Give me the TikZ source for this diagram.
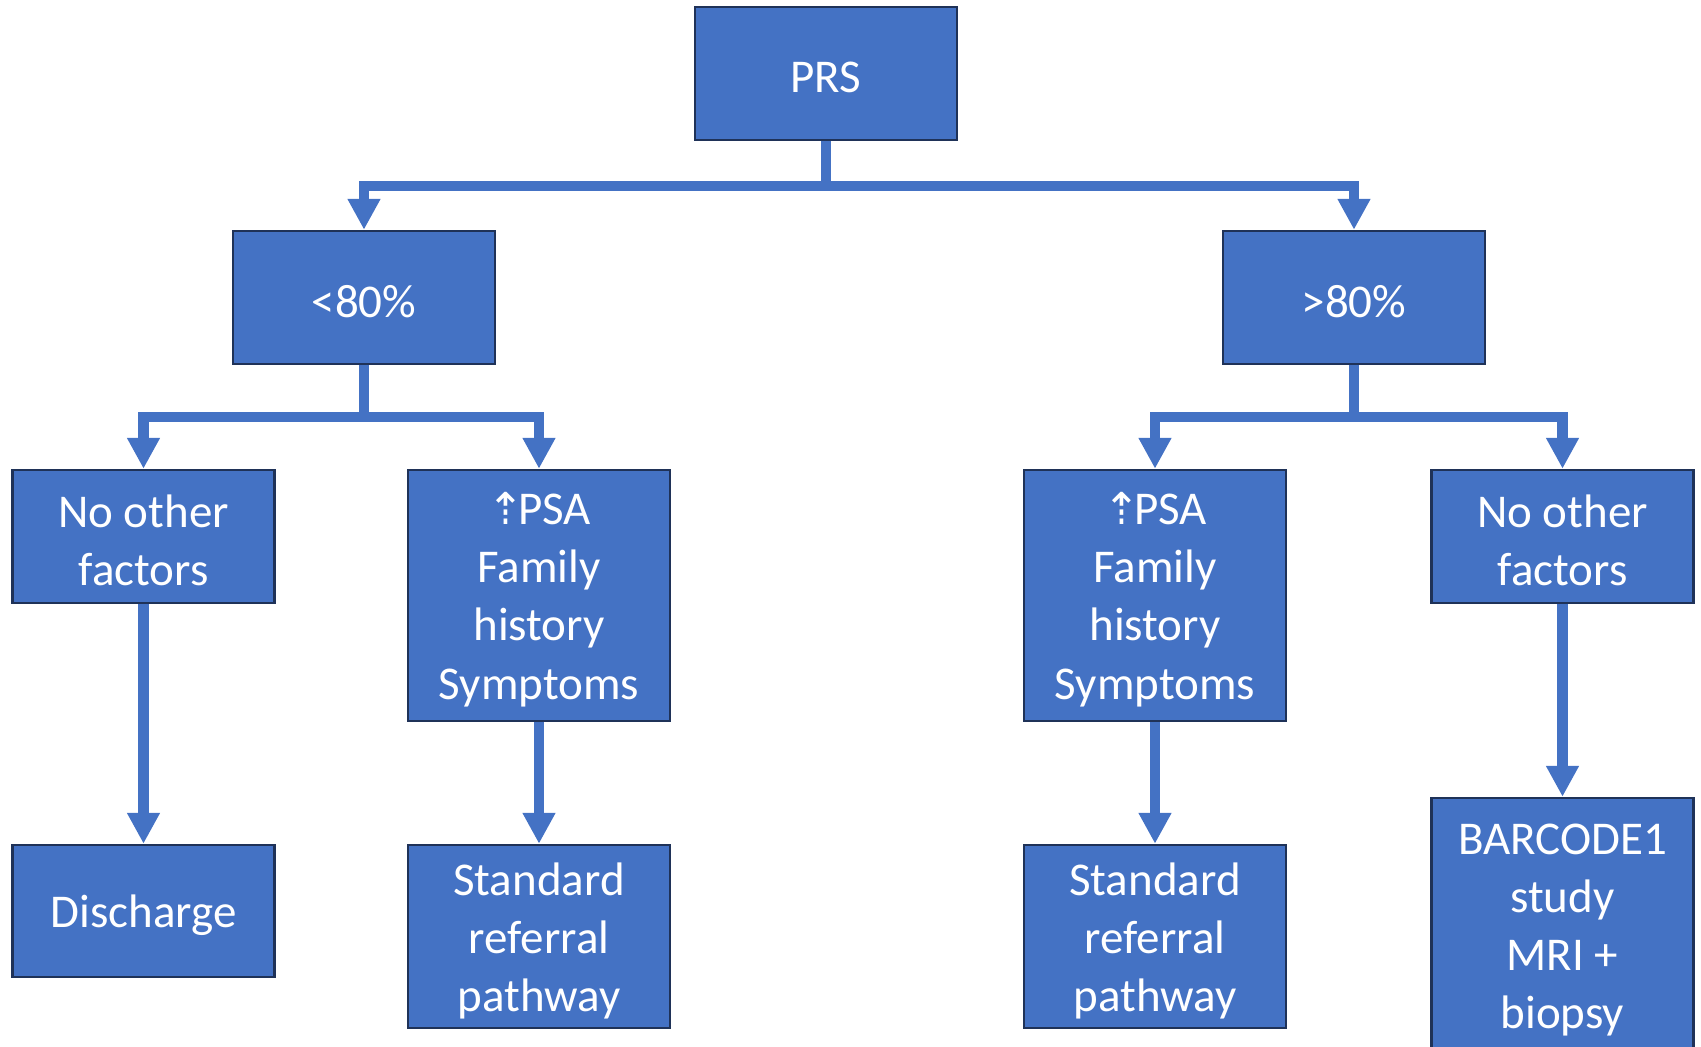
\documentclass[tikz,border=0pt]{standalone}
\usepackage{fontspec}
\setmainfont{Carlito}
\newfontfamily\arrowfont{DejaVu Sans}
\usetikzlibrary{arrows.meta}
\definecolor{boxblue}{HTML}{4472C4}
\definecolor{boxline}{HTML}{1F3258}
\tikzset{
 box/.style={rectangle, draw=boxline, line width=2.5pt, fill=boxblue, inner sep=0pt, minimum width=262pt},
 txt/.style={text=white, align=center, font=\fontsize{47}{58.3}\selectfont, inner sep=0pt},
 conn/.style={draw=boxblue, line width=10.5pt, line join=miter, -{Triangle[width=31pt,length=31pt]}},
}
\newcommand{\upd}{{\arrowfont\fontsize{44}{44}\selectfont ⇡}\kern-6pt}
\begin{document}
\begin{tikzpicture}[x=1pt,y=-1pt]
\useasboundingbox (0,0) rectangle (1701,1047);
\node[box, minimum height=133pt] (prs) at (826,73.5) {};
\node[box, minimum height=133pt] (lt) at (364,297.5) {};
\node[box, minimum height=133pt] (gt) at (1354,297.5) {};
\node[box, minimum height=133pt] (nofl) at (143.5,536.5) {};
\node[box, minimum height=251pt] (psal) at (539,595.5) {};
\node[box, minimum height=251pt] (psar) at (1155,595.5) {};
\node[box, minimum height=133pt] (nofr) at (1562.5,536.5) {};
\node[box, minimum height=132pt] (dis) at (143.5,911) {};
\node[box, minimum height=183pt] (stdl) at (539,936.5) {};
\node[box, minimum height=183pt] (stdr) at (1155,936.5) {};
\node[box, minimum height=256pt] (bar) at (1562.5,926) {};
\node[txt] (prs-t) at ([yshift=-4pt]prs.center) {PRS};
\node[txt] (lt-t) at ([yshift=-4pt]lt.center) {<80\%};
\node[txt] (gt-t) at ([yshift=-4pt]gt.center) {>80\%};
\node[txt] (nofl-t) at ([yshift=-4pt]nofl.center) {No other\\factors};
\node[txt] (psal-t) at ([yshift=-4pt]psal.center) {\upd PSA\\Family\\history\\Symptoms};
\node[txt] (psar-t) at ([yshift=-4pt]psar.center) {\upd PSA\\Family\\history\\Symptoms};
\node[txt] (nofr-t) at ([yshift=-4pt]nofr.center) {No other\\factors};
\node[txt] (dis-t) at ([yshift=-4pt]dis.center) {Discharge};
\node[txt] (stdl-t) at ([yshift=-4.5pt]stdl.center) {Standard\\referral\\pathway};
\node[txt] (stdr-t) at ([yshift=-4.5pt]stdr.center) {Standard\\referral\\pathway};
\node[txt] (bar-t) at ([yshift=-4pt]bar.center) {BARCODE1\\study\\MRI +\\biopsy};
\coordinate (j1) at (826,186);
\coordinate (j2) at (364,417);
\coordinate (j3) at (1354,417);
\draw[conn] (prs.south) -- (j1) -| (lt.north);
\draw[conn] (prs.south) -- (j1) -| (gt.north);
\draw[conn] (lt.south) -- (j2) -| (nofl.north);
\draw[conn] (lt.south) -- (j2) -| (psal.north);
\draw[conn] (gt.south) -- (j3) -| (psar.north);
\draw[conn] (gt.south) -- (j3) -| (nofr.north);
\draw[conn] (nofl.south) -- (dis.north);
\draw[conn] (psal.south) -- (stdl.north);
\draw[conn] (psar.south) -- (stdr.north);
\draw[conn] (nofr.south) -- (bar.north);
\end{tikzpicture}
\end{document}
